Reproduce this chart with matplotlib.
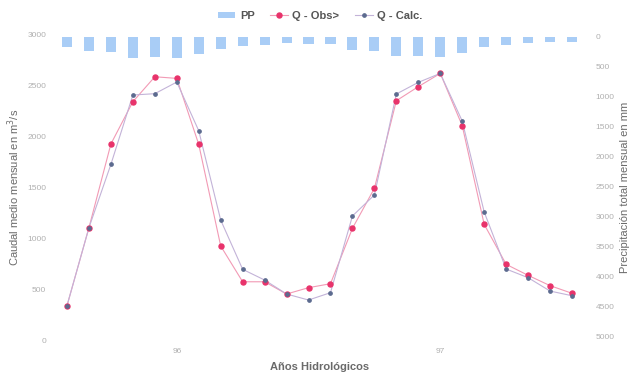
import matplotlib
matplotlib.use("Agg")
import matplotlib.pyplot as plt
from matplotlib.patches import Patch
from matplotlib.lines import Line2D
import numpy as np

plt.rcParams['font.family'] = ['Liberation Sans', 'DejaVu Sans']

# Monthly series over two hydrological years
months = list(range(24))
q_obs = [336, 1101, 1922, 2336, 2581, 2565, 1918, 922, 571, 571, 451, 513,
         552, 1095, 1487, 2346, 2484, 2614, 2101, 1134, 742, 634, 533, 458]
q_calc = [336, 1101, 1722, 2402, 2415, 2529, 2052, 1176, 693, 588, 451, 392,
          464, 1216, 1422, 2412, 2526, 2614, 2147, 1255, 696, 611, 480, 434]
pp = [163, 236, 256, 350, 337, 358, 288, 207, 158, 127, 98, 114,
      122, 215, 228, 321, 321, 329, 269, 174, 127, 93, 81, 81]

year_ticks = [5, 17]
year_labels = ["96", "97"]
left_ticks = [0, 500, 1000, 1500, 2000, 2500, 3000]
right_ticks = [0, 500, 1000, 1500, 2000, 2500, 3000, 3500, 4000, 4500, 5000]

obs_color = "#e8336b"
obs_line = "#f29ab5"
calc_color = "#5c6b8f"
calc_line = "#c3b3d8"
bar_color = "#a9cdf6"
tick_color = "#b0b0b0"
label_color = "#6a6a6a"

fig = plt.figure(figsize=(6.3, 3.78), dpi=100)
ax = fig.add_axes([0.0889, 0.1005, 0.8365, 0.8095])
ax2 = ax.twinx()

# precipitation bars hanging from the top (inverted right axis)
ax2.bar(months, pp, width=0.46, color=bar_color, zorder=1)
ax2.set_ylim(5066, -49)
ax2.set_yticks(right_ticks)
ax2.set_yticklabels([str(t) for t in right_ticks])

# discharge lines
ax.set_zorder(ax2.get_zorder() + 1)
ax.patch.set_visible(False)
ax.plot(months, q_obs, color=obs_line, lw=0.8, zorder=3)
ax.plot(months, q_obs, ls='none', marker='o', ms=3.6, color=obs_color,
        mec=obs_color, zorder=4)
ax.plot(months, q_calc, color=calc_line, lw=0.8, zorder=3)
ax.plot(months, q_calc, ls='none', marker='o', ms=2.4, color=calc_color,
        mec=calc_color, zorder=5)

ax.set_xlim(-0.5, 23.5)
ax.set_ylim(0, 3000)
ax.set_yticks(left_ticks)
ax.set_yticklabels([str(t) for t in left_ticks])
ax.set_xticks(year_ticks)
ax.set_xticklabels(year_labels)

for a in (ax, ax2):
    for s in a.spines.values():
        s.set_visible(False)
    a.tick_params(length=0, labelsize=6, labelcolor=tick_color)
ax.tick_params(axis='y', pad=7)
ax.tick_params(axis='x', pad=6)
ax2.tick_params(axis='y', pad=9)

ax.set_ylabel("Caudal medio mensual en m$^3$/s", fontsize=8,
              color=label_color, labelpad=4)
ax2.set_ylabel("Precipitación total mensual en mm", fontsize=8,
               color=label_color, labelpad=4)
ax.set_xlabel("Años Hidrológicos", fontsize=8, fontweight='bold',
              color=label_color, labelpad=5)

handles = [
    Patch(facecolor=bar_color, edgecolor='none'),
    Line2D([], [], color=obs_line, lw=0.8, marker='o', ms=3.6,
           mfc=obs_color, mec=obs_color),
    Line2D([], [], color=calc_line, lw=0.8, marker='o', ms=2.4,
           mfc=calc_color, mec=calc_color),
]
fig.legend(handles, ["PP", "Q - Obs>", "Q - Calc."], loc='center',
           bbox_to_anchor=(0.508, 0.958), ncol=3, frameon=False,
           handlelength=1.6, handleheight=0.5,
           columnspacing=1.4, handletextpad=0.4,
           labelcolor="#555555", prop={'weight': 'bold', 'size': 8})

fig.savefig("out.png", dpi=100)
